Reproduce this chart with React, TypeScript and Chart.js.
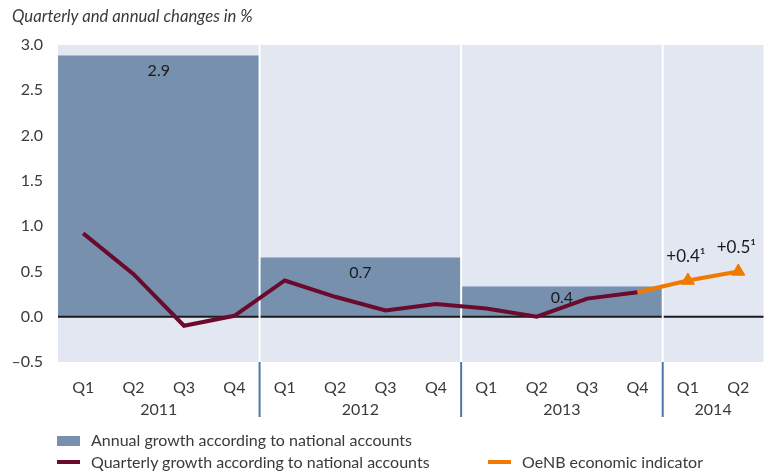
import React, { useEffect, useRef } from "react";
import { Chart, registerables } from "chart.js";

Chart.register(...registerables);

// ---- data ----
const quarterLabels = ["Q1", "Q2", "Q3", "Q4", "Q1", "Q2", "Q3", "Q4", "Q1", "Q2", "Q3", "Q4", "Q1", "Q2"];
const years = ["2011", "2012", "2013", "2014"];
const quartersPerYear = [4, 4, 4, 2];
const annualGrowth = [2.88, 0.65, 0.33];
const annualLabels = ["2.9", "0.7", "0.4"];
const quarterlyGrowth = [0.92, 0.47, -0.1, 0.01, 0.4, 0.22, 0.07, 0.14, 0.09, 0.0, 0.2, 0.27, null, null];
const oenbIndicator = [null, null, null, null, null, null, null, null, null, null, null, 0.27, 0.4, 0.5];
const oenbLabels = ["+0.4\u00B9", "+0.5\u00B9"];
const yTicks = [-0.5, 0, 0.5, 1, 1.5, 2, 2.5, 3];

const FONT = "Lato, 'Noto Sans', sans-serif";
const BG = "#e3e7f1";
const BAR = "#7790ae";
const MAROON = "#6a0a2c";
const ORANGE = "#f07a00";
const SEP_BLUE = "#4f78a8";
const TEXT = "#3a3a3a";

// cumulative year boundaries & centers (in quarter units)
const boundaries: number[] = [];
const yearCenters: number[] = [];
{
  let acc = 0;
  quartersPerYear.forEach((n, i) => {
    yearCenters.push(acc + n / 2);
    acc += n;
    if (i < quartersPerYear.length - 1) boundaries.push(acc);
  });
}
const annualCenters = annualGrowth.map((_, i) => yearCenters[i]);

const plotBg = {
  id: "plotBg",
  beforeDraw(chart: any) {
    const { ctx, chartArea: a } = chart;
    ctx.save();
    ctx.fillStyle = BG;
    ctx.fillRect(a.left, a.top, a.width, a.height);
    ctx.restore();
  },
};

const overlays = {
  id: "overlays",
  beforeDatasetDraw(chart: any, args: any) {
    if (args.index !== 1) return;
    const { ctx, chartArea: a, scales } = chart;
    const y0 = scales.y.getPixelForValue(0);
    ctx.save();
    ctx.strokeStyle = "#1a1a1a";
    ctx.lineWidth = 2;
    ctx.beginPath();
    ctx.moveTo(a.left, y0);
    ctx.lineTo(a.right, y0);
    ctx.stroke();
    ctx.strokeStyle = "#ffffff";
    ctx.lineWidth = 2;
    boundaries.forEach((b) => {
      const x = scales.xl.getPixelForValue(b);
      ctx.beginPath();
      ctx.moveTo(x, a.top);
      ctx.lineTo(x, a.bottom);
      ctx.stroke();
    });
    ctx.restore();
  },
  afterDatasetsDraw(chart: any) {
    const { ctx, chartArea: a, scales } = chart;
    ctx.save();
    // blue separators below plot
    ctx.strokeStyle = SEP_BLUE;
    ctx.lineWidth = 2;
    boundaries.forEach((b) => {
      const x = scales.xl.getPixelForValue(b);
      ctx.beginPath();
      ctx.moveTo(x, a.bottom);
      ctx.lineTo(x, a.bottom + 55);
      ctx.stroke();
    });
    // bar labels
    ctx.fillStyle = "#1a1a1a";
    ctx.font = `16px ${FONT}`;
    ctx.textAlign = "center";
    ctx.textBaseline = "middle";
    const barMeta = chart.getDatasetMeta(2);
    barMeta.data.forEach((el: any, i: number) => {
      const mid = (el.y + el.base) / 2;
      const y = Math.min(el.y + 15, mid - 4);
      ctx.fillText(annualLabels[i], el.x, y);
    });
    // indicator labels
    ctx.font = `17px ${FONT}`;
    const oMeta = chart.getDatasetMeta(0);
    let k = 0;
    oMeta.data.forEach((el: any, i: number) => {
      if (i >= 12) {
        ctx.fillText(oenbLabels[k++], el.x - 2, el.y - 24);
      }
    });
    ctx.restore();
  },
};

function ChartCanvas() {
  const ref = useRef<HTMLCanvasElement | null>(null);
  useEffect(() => {
    if (!ref.current) return;
    const chart = new Chart(ref.current, {
      type: "line",
      data: {
        labels: quarterLabels,
        datasets: [
          {
            label: "OeNB economic indicator",
            data: oenbIndicator,
            borderColor: ORANGE,
            backgroundColor: ORANGE,
            borderWidth: 4,
            pointStyle: "triangle",
            pointRadius: (c: any) => (c.dataIndex >= 12 ? 7.5 : 0),
            pointHoverRadius: 0,
            pointBorderWidth: 1,
            pointBorderColor: ORANGE,
            pointBackgroundColor: ORANGE,
            tension: 0,
            xAxisID: "x",
            yAxisID: "y",
          } as any,
          {
            label: "Quarterly growth according to national accounts",
            data: quarterlyGrowth,
            borderColor: MAROON,
            backgroundColor: MAROON,
            borderWidth: 4,
            pointRadius: 0,
            tension: 0,
            xAxisID: "x",
            yAxisID: "y",
          } as any,
          {
            type: "bar",
            label: "Annual growth according to national accounts",
            data: annualGrowth.map((v, i) => ({ x: annualCenters[i], y: v })),
            backgroundColor: BAR,
            borderWidth: 0,
            barPercentage: 1,
            categoryPercentage: 1,
            grouped: false,
            xAxisID: "xl",
            yAxisID: "y",
          } as any,
        ],
      },
      options: {
        animation: false,
        responsive: false,
        maintainAspectRatio: false,
        events: [],
        layout: { padding: { top: 45, right: 4, left: 0, bottom: 53 } },
        plugins: { legend: { display: false }, tooltip: { enabled: false }, title: { display: false } },
        scales: {
          x: {
            type: "category",
            position: "bottom",
            offset: true,
            weight: 0,
            grid: { display: false, drawTicks: false },
            border: { display: false },
            ticks: { color: TEXT, font: { family: FONT, size: 16 }, padding: 16, maxRotation: 0, autoSkip: false },
            afterFit: (s: any) => { s.height = 34; },
          },
          xYear: {
            type: "linear",
            position: "bottom",
            min: 0,
            max: 14,
            offset: false,
            weight: 1,
            grid: { display: false, drawTicks: false },
            border: { display: false },
            afterBuildTicks: (s: any) => { s.ticks = yearCenters.map((v) => ({ value: v })); },
            ticks: {
              color: TEXT,
              font: { family: FONT, size: 16 },
              padding: 4,
              maxRotation: 0,
              autoSkip: false,
              callback: (v: any) => years[yearCenters.indexOf(Number(v))] ?? "",
            },
            afterFit: (s: any) => { s.height = 24; },
          },
          xl: {
            type: "linear",
            display: false,
            min: 0,
            max: 14,
            offset: false,
            grid: { offset: false },
            afterBuildTicks: (s: any) => { s.ticks = [0, ...boundaries].map((v) => ({ value: v })); },
          },
          y: {
            type: "linear",
            min: -0.5,
            max: 3,
            afterBuildTicks: (s: any) => { s.ticks = yTicks.map((v) => ({ value: v })); },
            grid: { display: false, drawTicks: false },
            border: { display: false },
            ticks: {
              color: TEXT,
              font: { family: FONT, size: 16 },
              padding: 15,
              callback: (v: any) => (Number(v) < 0 ? "\u2013" + Math.abs(Number(v)).toFixed(1) : Number(v).toFixed(1)),
            },
            afterFit: (s: any) => { s.width = 58; },
          },
        },
      } as any,
      plugins: [plotBg, overlays],
    });
    return () => chart.destroy();
  }, []);
  return <canvas ref={ref} width={772} height={473} style={{ position: "absolute", left: 0, top: 0, width: 772, height: 473 }} />;
}

const legendText: React.CSSProperties = {
  position: "absolute",
  fontFamily: FONT,
  fontSize: 16,
  lineHeight: "20px",
  color: TEXT,
  whiteSpace: "nowrap",
};

export default function App() {
  return (
    <div style={{ position: "fixed", left: 0, top: 0, width: 772, height: 473, background: "#fff", overflow: "hidden" }}>
      <ChartCanvas />
      <div style={{ ...legendText, left: 12, top: 6, fontStyle: "italic", fontSize: 16.7 }}>Quarterly and annual changes in %</div>
      <div style={{ position: "absolute", left: 57, top: 436, width: 23, height: 10, background: BAR }} />
      <div style={{ ...legendText, left: 91, top: 430 }}>Annual growth according to national accounts</div>
      <div style={{ position: "absolute", left: 57, top: 460, width: 23, height: 4, background: MAROON }} />
      <div style={{ ...legendText, left: 91, top: 452 }}>Quarterly growth according to national accounts</div>
      <div style={{ position: "absolute", left: 488, top: 460, width: 23, height: 4, background: ORANGE }} />
      <div style={{ ...legendText, left: 522, top: 452 }}>OeNB economic indicator</div>
    </div>
  );
}
